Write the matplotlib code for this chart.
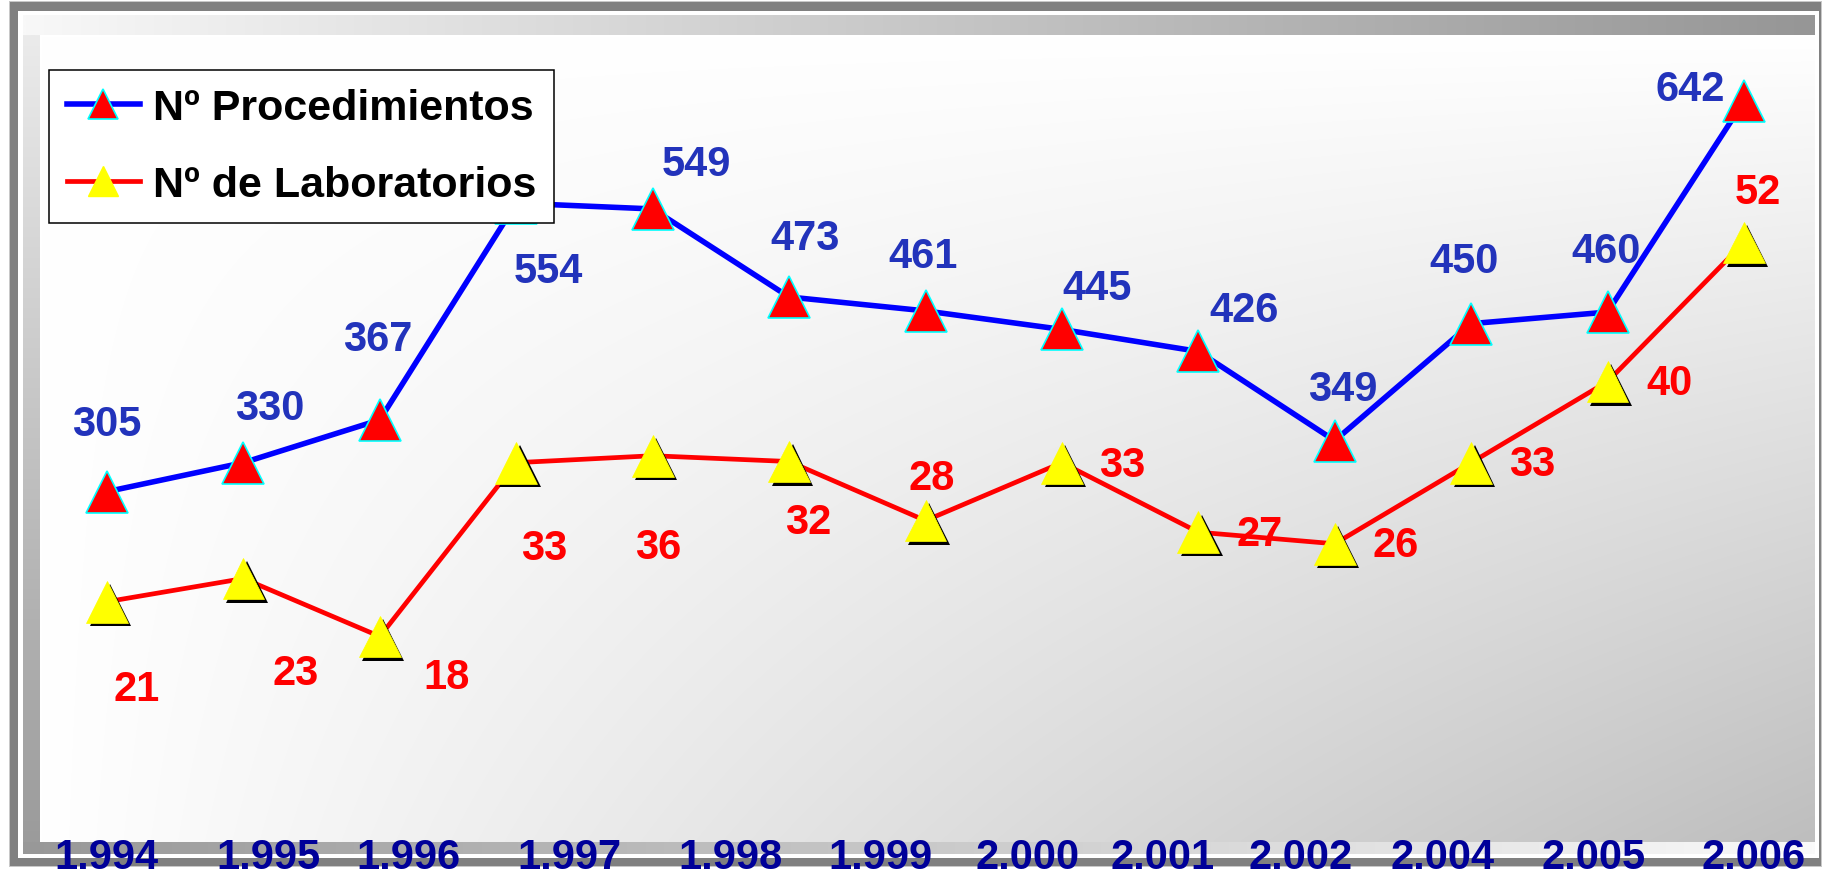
import numpy as np
import matplotlib
matplotlib.use("Agg")
import matplotlib.pyplot as plt
import matplotlib.patheffects as pe
from matplotlib.patches import Rectangle
from matplotlib.lines import Line2D

plt.rcParams['font.family'] = ['Liberation Sans', 'DejaVu Sans']
plt.rcParams['font.weight'] = 'bold'

# data
procedimientos = [305, 330, 367, 554, 549, 473, 461, 445, 426, 349, 450, 460, 642]
laboratorios = [21, 23, 18, 33, 36, 32, 28, 33, 27, 26, 33, 40, 52]
# heights at which the laboratorio markers are actually drawn in the original
laboratorios_drawn = [21, 23, 18, 33, 33.6, 33.1, 28, 33, 27, 26, 33, 40, 52]
year_labels = ['1.994', '1.995', '1.996', '1.997', '1.998', '1.999',
               '2.000', '2.001', '2.002', '2.004', '2.005', '2.006']

# layout (pixel offsets of data labels, x positions of the year labels)
year_pos = [-0.005, 1.18, 2.21, 3.39, 4.57, 5.67, 6.75, 7.74, 8.75, 9.79, 10.90, 12.07]
proc_off = [(0, 71.5), (26, 58.5), (-2, 84.5), (32, -64), (44, 49), (16, 62.5), (-2.5, 59),
            (35, 45), (46, 45), (7.5, 55.5), (-7.5, 67), (-2, 65), (-54, 16.5)]
lab_off = [(30, -83), (52, -90), (67, -36.5), (27.5, -81), (5.5, -87), (19, -56), (6, 47),
           (60, 2), (61.5, 2.5), (61, 3), (61, 2.5), (61.5, 3), (14, 54.5)]

W, H = 1823, 878
fig = plt.figure(figsize=(W / 100, H / 100), dpi=100)
fig.patch.set_facecolor('white')

# background frame, drawn in pixel coordinates
bg = fig.add_axes([0, 0, 1, 1], zorder=-1)
bg.axis('off')

bg.add_patch(Rectangle((9, 2), 1813, 866, facecolor='#c8c8c8', edgecolor='none', zorder=1))
bg.add_patch(Rectangle((10, 3), 1811, 864, facecolor='#808080', edgecolor='none', zorder=1))
bg.add_patch(Rectangle((18, 12), 1801, 847, facecolor='white', edgecolor='none', zorder=1))


def grad_h(c0, c1, n=300):
    g = (c0 + (c1 - c0) * np.linspace(0, 1, n)) / 255
    return np.repeat(g[None, :, None], 3, axis=2)


def grad_v(c0, c1, n=300):
    return np.transpose(grad_h(c0, c1, n), (1, 0, 2))


kw = dict(aspect='auto', interpolation='bilinear', zorder=2)
bg.imshow(grad_h(248, 150), extent=(23, 1815, 36, 16), **kw)
bg.imshow(grad_v(235, 155), extent=(23, 40, 843, 36), **kw)
bg.imshow(grad_h(152, 250), extent=(23, 1815, 855, 843), **kw)

u = np.linspace(0, 1, 500)
v = np.linspace(0, 1, 250)
shade = (255 - 65 * np.outer(v, u)) / 255
bg.imshow(np.dstack([shade, shade, shade]), extent=(40, 1815, 843, 36), **kw)
bg.set_xlim(0, W)
bg.set_ylim(H, 0)

# main axes: procedimientos on 0-700, laboratorios on 0-70
ax = fig.add_axes([38.8 / W, 1 - 846 / H, 1773.4 / W, 811 / H])
ax2 = ax.twinx()
x = np.arange(len(procedimientos))

ax.plot(x, procedimientos, color='#0000ff', lw=4, zorder=2)
ax.plot(x, procedimientos, ls='none', marker='^', ms=30, mfc='#ff0000',
        mec='#00ffff', mew=1.2, zorder=3)

ax2.plot(x, laboratorios_drawn, color='#ff0000', lw=3.4, zorder=2)
ax2.plot(x, laboratorios_drawn, ls='none', marker='^', ms=30, mfc='#ffff00',
         mec='#ffff00', mew=0.5, zorder=3,
         path_effects=[pe.SimplePatchShadow(offset=(2.5, -2.5), shadow_rgbFace='black', alpha=1.0),
                       pe.Normal()])

for a in (ax, ax2):
    a.set_xlim(-0.5, 12.5)
    a.axis('off')
ax.set_ylim(0, 700)
ax2.set_ylim(0, 70)

for i, val in enumerate(procedimientos):
    dx, dy = proc_off[i]
    ax.annotate(str(val), (x[i], val), xytext=(dx, dy - 15), textcoords='offset pixels',
                ha='center', va='baseline', fontsize=30, fontweight='bold', color='#2233bb')

for i, val in enumerate(laboratorios):
    dx, dy = lab_off[i]
    ax2.annotate(str(val), (x[i], laboratorios_drawn[i]), xytext=(dx, dy - 15),
                 textcoords='offset pixels', ha='center', va='baseline',
                 fontsize=30, fontweight='bold', color='#ff0000', zorder=4)

for pos, lab in zip(year_pos, year_labels):
    ax.text(pos, -0.0285, lab, transform=ax.get_xaxis_transform(), ha='center',
            va='baseline', fontsize=30, fontweight='bold', color='#000099')

handles = [
    Line2D([], [], color='#0000ff', lw=4, marker='^', ms=22, mfc='#ff0000', mec='#00ffff', mew=1.2),
    Line2D([], [], color='#ff0000', lw=3.4, marker='^', ms=22, mfc='#ffff00', mec='#ffff00'),
]
leg = ax2.legend(handles, ['Nº Procedimientos', 'Nº de Laboratorios'],
                 loc='upper left', bbox_to_anchor=(48.6 / W, 1 - 71 / H),
                 bbox_transform=fig.transFigure, borderaxespad=0,
                 prop={'size': 31, 'weight': 'bold'}, frameon=True, fancybox=False,
                 framealpha=1, edgecolor='black', borderpad=0.42, labelspacing=0.85,
                 handlelength=1.7, handletextpad=0.3)
leg.get_frame().set_linewidth(1.1)
leg.set_zorder(10)

fig.savefig('out.png', dpi=100)
